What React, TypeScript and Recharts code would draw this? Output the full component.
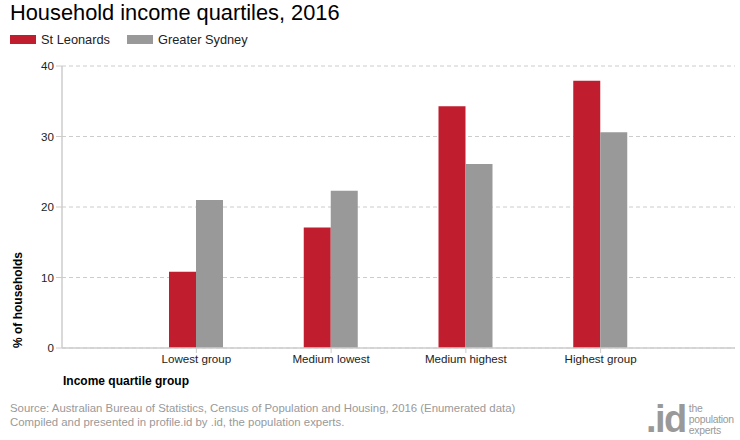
import React from 'react';
import { BarChart, Bar, XAxis, YAxis, CartesianGrid, Label } from 'recharts';

const categories = ['Lowest group', 'Medium lowest', 'Medium highest', 'Highest group'];
const stLeonards = [10.8, 17.1, 34.3, 37.9];
const greaterSydney = [21.0, 22.3, 26.1, 30.6];
const yTicks = [0, 10, 20, 30, 40];

const series = [
  { key: 'stLeonards', name: 'St Leonards', color: '#C01E2E' },
  { key: 'greaterSydney', name: 'Greater Sydney', color: '#999999' },
];

const data = categories.map((c, i) => ({
  category: c,
  stLeonards: stLeonards[i],
  greaterSydney: greaterSydney[i],
}));

const FONT = '"Liberation Sans", Arial, sans-serif';

function YLabel({ viewBox }: any) {
  const x = 18;
  const y = viewBox ? viewBox.y + viewBox.height - 48 : 300;
  return (
    <text
      x={x}
      y={y}
      transform={`rotate(-90, ${x}, ${y})`}
      textAnchor="middle"
      dominantBaseline="central"
      fontSize={12}
      fontWeight="bold"
      fill="#000"
      fontFamily={FONT}
    >
      % of households
    </text>
  );
}

export default function App() {
  return (
    <div
      style={{
        position: 'fixed',
        left: 0,
        top: 0,
        width: 740,
        height: 440,
        background: '#fff',
        fontFamily: FONT,
        overflow: 'hidden',
      }}
    >
      <div style={{ position: 'absolute', left: 10, top: 0, fontSize: 21.8, color: '#000', whiteSpace: 'nowrap' }}>
        Household income quartiles, 2016
      </div>
      <div style={{ position: 'absolute', left: 10, top: 32, display: 'flex', fontSize: 12.8, color: '#222' }}>
        {series.map((s) => (
          <div key={s.key} style={{ display: 'flex', alignItems: 'center', marginRight: 17 }}>
            <span style={{ display: 'inline-block', width: 26, height: 9, background: s.color, marginRight: 5 }} />
            <span>{s.name}</span>
          </div>
        ))}
      </div>

      <div style={{ position: 'absolute', left: 0, top: 0 }}>
        <BarChart
          width={740}
          height={440}
          data={data}
          margin={{ top: 66, right: 5, bottom: 62, left: 26 }}
          barGap={0}
          barSize={27}
        >
          <CartesianGrid vertical={false} stroke="#cccccc" strokeDasharray="4 3" />
          <XAxis
            dataKey="category"
            height={30}
            padding={{ left: 67, right: 67 }}
            axisLine={{ stroke: '#cccccc', strokeWidth: 1.5 }}
            tickLine={{ stroke: '#cccccc' }}
            tickSize={5}
            tick={{ fill: '#222', fontSize: 11.6, fontFamily: FONT }}
          />
          <YAxis
            width={36}
            domain={[0, 40]}
            ticks={yTicks}
            interval={0}
            axisLine={{ stroke: '#cccccc', strokeWidth: 1.5 }}
            tickLine={{ stroke: '#cccccc' }}
            tickSize={6}
            tick={{ fill: '#222', fontSize: 11.6, fontFamily: FONT }}
          >
            <Label content={<YLabel />} />
          </YAxis>
          {series.map((s) => (
            <Bar key={s.key} dataKey={s.key} name={s.name} fill={s.color} isAnimationActive={false} />
          ))}
        </BarChart>
      </div>

      <div style={{ position: 'absolute', left: 63, top: 374, fontSize: 12, fontWeight: 'bold', color: '#000' }}>
        Income quartile group
      </div>
      <div style={{ position: 'absolute', left: 10, top: 401, fontSize: 11.4, color: '#999', lineHeight: '14px', whiteSpace: 'nowrap' }}>
        <div>Source: Australian Bureau of Statistics, Census of Population and Housing, 2016 (Enumerated data)</div>
        <div>Compiled and presented in profile.id by .id, the population experts.</div>
      </div>
      <div style={{ position: 'absolute', left: 646, top: 402, display: 'flex', alignItems: 'flex-end', color: '#999' }}>
        <span style={{ fontSize: 38, fontWeight: 'bold', lineHeight: '34px', letterSpacing: -1.5 }}>.id</span>
        <span
          style={{
            fontSize: 10.4,
            lineHeight: '11px',
            marginLeft: 3,
            marginBottom: 0,
            letterSpacing: -0.3,
            whiteSpace: 'nowrap',
          }}
        >
          the
          <br />
          population
          <br />
          experts
        </span>
      </div>
    </div>
  );
}
